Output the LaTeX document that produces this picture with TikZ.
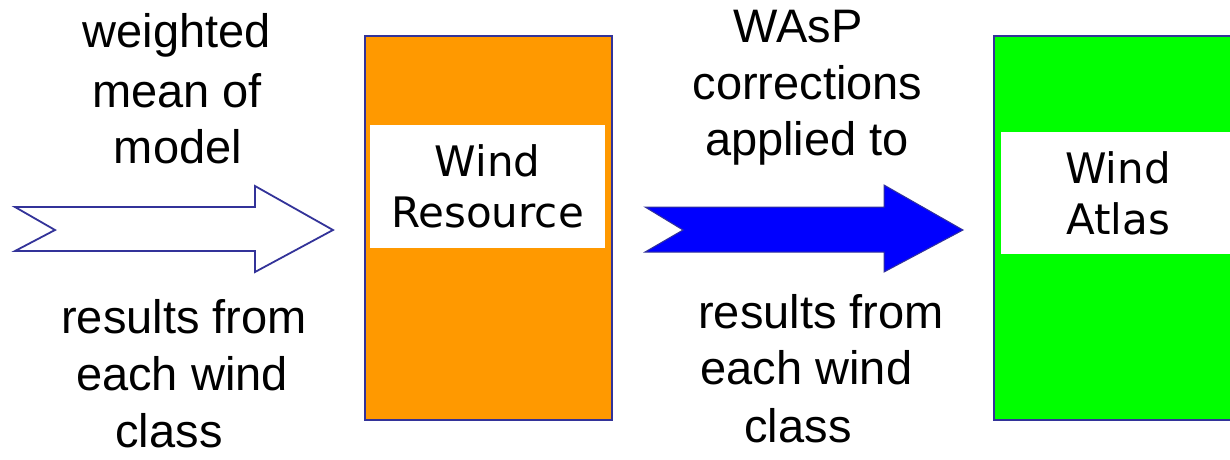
\documentclass[tikz,border=0pt]{standalone}
\usepackage{fontspec}
\setmainfont{Liberation Sans}
\newfontfamily\boxfont{DejaVu Sans}
\definecolor{edgeblue}{HTML}{333399}
\definecolor{resorange}{HTML}{FF9900}
\definecolor{atlasgreen}{HTML}{00FF00}
\definecolor{arrowblue}{HTML}{0000FF}
\begin{document}
\begin{tikzpicture}[x=1pt,y=-1pt,
  lbl/.style={anchor=base,inner sep=0pt,font=\fontsize{47}{57}\selectfont},
  bigbox/.style={draw=edgeblue,line width=1.5pt,inner sep=0pt},
  whitebox/.style={fill=white,inner sep=0pt,align=center,font=\boxfont\fontsize{42}{51}\selectfont},
  blockarrow/.style={draw=edgeblue,line width=1.8pt,line join=miter}]
\useasboundingbox (0,0) rectangle (1230,459);
\clip (0,0) rectangle (1230,459);
% boxes
\node[bigbox,fill=resorange,minimum width=247pt,minimum height=384pt] (res) at (488.5,228) {};
\node[whitebox,minimum width=235pt,minimum height=123pt] (restxt) at (487.5,186.5) {Wind\\Resource};
\node[bigbox,fill=atlasgreen,minimum width=250pt,minimum height=384pt] (atl) at (1119,228) {};
\node[whitebox,minimum width=234pt,minimum height=122pt] (atltxt) at (1118,193) {Wind\\Atlas};
% arrows
\draw[blockarrow,fill=white] (15,207) -- (255,207) -- (255,186) -- (333,230) -- (255,272) -- (255,251) -- (15,251) -- (55,230) -- cycle;
\draw[blockarrow,line width=1pt,fill=arrowblue] (645,207) -- (884,207) -- (884,185) -- (963,230) -- (884,272) -- (884,252) -- (645,252) -- (683,230) -- cycle;
% labels left
\node[lbl] (lt1) at (177,47) {weighted};
\node[lbl] (lt2) at (177,107) {mean of};
\node[lbl] (lt3) at (178,163) {model};
\node[lbl] (lb1) at (184,333) {results from};
\node[lbl] (lb2) at (182,390) {each wind};
\node[lbl] (lb3) at (169,447) {class};
% labels right
\node[lbl] (rt1) at (798,42) {WAsP};
\node[lbl] (rt2) at (807.5,99) {corrections};
\node[lbl] (rt3) at (807,155) {applied to};
\node[lbl] (rb1) at (821,328) {results from};
\node[lbl] (rb2) at (806.5,384) {each wind};
\node[lbl] (rb3) at (798,442) {class};
\end{tikzpicture}
\end{document}
